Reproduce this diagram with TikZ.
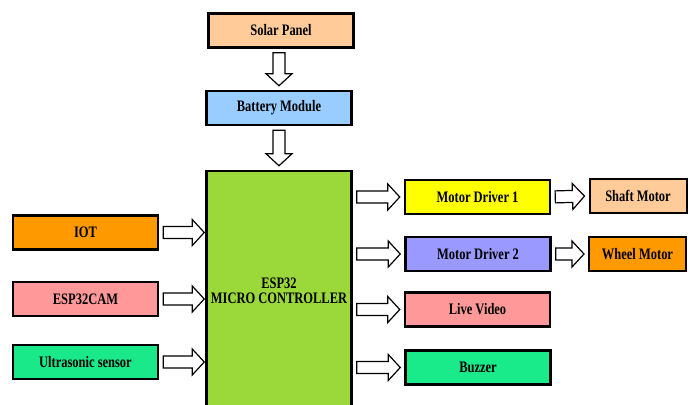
\documentclass[tikz,border=0pt]{standalone}
\usepackage{fontspec}
\setmainfont{Liberation Serif}[FakeStretch=0.78]
\usetikzlibrary{calc}

\definecolor{solarc}{HTML}{FFCC99}
\definecolor{battc}{HTML}{99CCFF}
\definecolor{espc}{HTML}{9BD83A}
\definecolor{iotc}{HTML}{FF9900}
\definecolor{camc}{HTML}{FF9999}
\definecolor{sonicc}{HTML}{1AE98A}
\definecolor{mdonec}{HTML}{FFFF00}
\definecolor{mdtwoc}{HTML}{9999FF}
\definecolor{videoc}{HTML}{FF9999}
\definecolor{buzzc}{HTML}{19EB8A}
\definecolor{shaftc}{HTML}{FFCC99}
\definecolor{wheelc}{HTML}{FF9900}

\tikzset{
    block/.style={draw=black, line width=2.5pt, minimum width=145pt, minimum height=34pt,
        inner sep=0pt, align=center, font=\fontsize{16}{15}\selectfont\bfseries},
    motorblock/.style={block, line width=2pt, minimum width=97pt},
    blockarrow/.style={draw=black, fill=white, line width=1.2pt, line join=miter}
}

\begin{document}
\begin{tikzpicture}[x=1pt, y=-1pt]

% Helper macro for a hollow block arrow between two points
% Arguments: start, end
\def\blockarrow#1#2{
    \draw[blockarrow]
        ($(#1)!4pt!(#2)!6pt!90:(#2)$) --
        ($(#2)!16pt!(#1)!6pt!90:(#2)$) --
        ($(#2)!16pt!(#1)!13pt!90:(#2)$) --
        ($(#2)!4pt!(#1)$) --
        ($(#2)!16pt!(#1)!13pt!-90:(#2)$) --
        ($(#2)!16pt!(#1)!6pt!-90:(#2)$) --
        ($(#1)!4pt!(#2)!6pt!-90:(#2)$) -- cycle;
}

\clip (0,0) rectangle (695,404);
\fill[white] (0,0) rectangle (695,404);

% Power supply
\node[block, fill=solarc] (solar) at (281,30.5) {Solar Panel};
\node[block, fill=battc] (battery) at (279,108) {Battery Module};

% Controller (runs off the bottom edge)
\node[block, fill=espc, minimum height=240pt] (esp) at (279,291) {ESP32\\MICRO CONTROLLER};

% Inputs
\node[block, fill=iotc] (iot) at (85.5,232.5) {IOT};
\node[block, fill=camc] (cam) at (85.5,299) {ESP32CAM};
\node[block, fill=sonicc] (sonic) at (85.5,362) {Ultrasonic sensor};

% Outputs
\node[block, fill=mdonec] (mdone) at (477.5,197) {Motor Driver 1};
\node[block, fill=mdtwoc] (mdtwo) at (478,254) {Motor Driver 2};
\node[block, fill=videoc] (video) at (477.5,309.5) {Live Video};
\node[block, fill=buzzc] (buzz) at (478,367.5) {Buzzer};

% Motors
\node[motorblock, fill=shaftc] (shaft) at (638,196) {Shaft Motor};
\node[motorblock, fill=wheelc] (wheel) at (637.5,254) {Wheel Motor};

% Arrow end points
\coordinate (pone) at (battery.north |- solar.south);
\coordinate (ptwo) at (esp.north |- battery.south);
\coordinate (iniot) at ($(esp.west |- iot.east)+(3,0)$);
\coordinate (incam) at ($(esp.west |- cam.east)+(3,0)$);
\coordinate (insonic) at ($(esp.west |- sonic.east)+(3,0)$);
\coordinate (outmdone) at (esp.east |- mdone.west);
\coordinate (outmdtwo) at (esp.east |- mdtwo.west);
\coordinate (outvideo) at (esp.east |- video.west);
\coordinate (outbuzz) at (esp.east |- buzz.west);

% Power arrows
\blockarrow{pone}{battery.north}
\blockarrow{ptwo}{esp.north}

% Input arrows
\blockarrow{iot.east}{iniot}
\blockarrow{cam.east}{incam}
\blockarrow{sonic.east}{insonic}

% Output arrows
\blockarrow{outmdone}{mdone.west}
\blockarrow{outmdtwo}{mdtwo.west}
\blockarrow{outvideo}{video.west}
\blockarrow{outbuzz}{buzz.west}
\blockarrow{mdone.east}{shaft.west}
\blockarrow{mdtwo.east}{wheel.west}

\end{tikzpicture}
\end{document}
